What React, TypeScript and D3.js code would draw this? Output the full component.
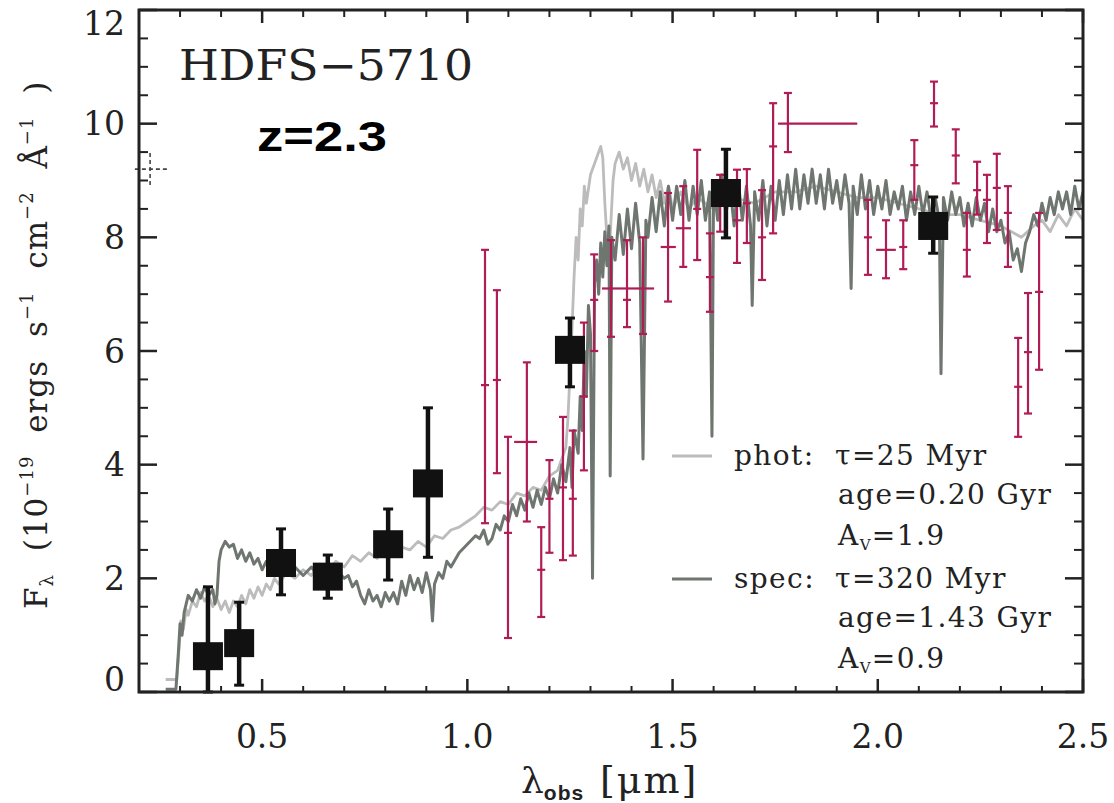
import React from "react";
import * as d3 from "d3";

// ---- data ----
const X_TICKS = [0.5, 1.0, 1.5, 2.0, 2.5];
const X_MINOR = [0.3, 0.4, 0.6, 0.7, 0.8, 0.9, 1.1, 1.2, 1.3, 1.4, 1.6, 1.7, 1.8, 1.9, 2.1, 2.2, 2.3, 2.4];
const Y_TICKS = [0, 2, 4, 6, 8, 10, 12];
const Y_MINOR = [0.5, 1, 1.5, 2.5, 3, 3.5, 4.5, 5, 5.5, 6.5, 7, 7.5, 8.5, 9, 9.5, 10.5, 11, 11.5];

// phot model: light grey [lambda (um), flux]
const PHOT_MODEL: [number, number][] = [
  [0.265, 0.22], [0.292, 0.22], [0.298, 0.8], [0.302, 1.25], [0.308, 1.1], [0.315, 1.45], [0.32, 1.35], [0.33, 1.6],
  [0.34, 1.5], [0.35, 1.75], [0.36, 1.6], [0.37, 1.7], [0.38, 1.5], [0.39, 1.65], [0.4, 1.45], [0.41, 1.6],
  [0.42, 1.4], [0.43, 1.6], [0.44, 1.5], [0.45, 1.7], [0.46, 1.55], [0.47, 1.8], [0.48, 1.65], [0.49, 1.85],
  [0.5, 1.7], [0.51, 1.9], [0.52, 1.8], [0.53, 2.0], [0.54, 1.9], [0.56, 2.1], [0.58, 2.0], [0.6, 2.15],
  [0.62, 2.05], [0.64, 2.25], [0.66, 2.15], [0.68, 2.3], [0.7, 2.2], [0.72, 2.4], [0.74, 2.3], [0.76, 2.45],
  [0.78, 2.35], [0.8, 2.5], [0.82, 2.4], [0.84, 2.55], [0.86, 2.5], [0.88, 2.65], [0.9, 2.55], [0.92, 2.75],
  [0.94, 2.7], [0.96, 2.85], [0.98, 2.9], [1.0, 3.0], [1.02, 3.1], [1.04, 3.25], [1.06, 3.2], [1.08, 3.35],
  [1.1, 3.3], [1.12, 3.5], [1.14, 3.45], [1.16, 3.6], [1.18, 3.55], [1.2, 3.8], [1.22, 3.9], [1.24, 4.3],
  [1.245, 4.8], [1.25, 5.6], [1.255, 6.4], [1.26, 7.3], [1.265, 8.0], [1.27, 7.6], [1.275, 8.5], [1.28, 8.2],
  [1.285, 8.9], [1.29, 8.6], [1.3, 9.1], [1.31, 9.3], [1.32, 9.5], [1.325, 9.6], [1.33, 9.4], [1.335, 8.6],
  [1.34, 8.0], [1.345, 7.6], [1.35, 8.3], [1.355, 9.0], [1.36, 9.3], [1.37, 9.5], [1.38, 9.2], [1.39, 9.4],
  [1.4, 9.0], [1.41, 9.3], [1.42, 8.9], [1.43, 9.2], [1.44, 8.8], [1.45, 9.1], [1.46, 8.7], [1.47, 9.0],
  [1.48, 8.6], [1.49, 8.9], [1.5, 8.5], [1.52, 8.8], [1.54, 8.5], [1.56, 8.7], [1.6, 8.5], [1.65, 8.7],
  [1.7, 8.6], [1.75, 8.8], [1.8, 8.8], [1.85, 8.9], [1.9, 8.8], [1.95, 8.7], [2.0, 8.7], [2.05, 8.6],
  [2.1, 8.5], [2.15, 8.4], [2.2, 8.4], [2.25, 8.3], [2.3, 8.2], [2.35, 8.0], [2.38, 8.2], [2.4, 8.3],
  [2.42, 8.1], [2.44, 8.4], [2.46, 8.2], [2.48, 8.5], [2.5, 8.3],
];

// spec model: dark grey [lambda (um), flux]
const SPEC_MODEL: [number, number][] = [
  [0.265, 0.05], [0.29, 0.05], [0.296, 0.7], [0.3, 1.2], [0.305, 1.0], [0.31, 1.4], [0.32, 1.7], [0.33, 1.6],
  [0.34, 1.8], [0.35, 1.65], [0.36, 1.85], [0.37, 1.7], [0.38, 1.8], [0.385, 1.55], [0.39, 1.7], [0.395, 2.3],
  [0.4, 2.5], [0.41, 2.65], [0.42, 2.55], [0.43, 2.6], [0.44, 2.35], [0.45, 2.5], [0.46, 2.3], [0.47, 2.45],
  [0.48, 2.25], [0.49, 2.35], [0.5, 2.15], [0.51, 2.3], [0.52, 2.2], [0.53, 2.05], [0.54, 2.25], [0.56, 2.1],
  [0.58, 2.2], [0.6, 2.05], [0.62, 2.2], [0.64, 2.0], [0.66, 2.1], [0.68, 2.15], [0.7, 2.0], [0.71, 2.05],
  [0.72, 1.85], [0.73, 1.95], [0.74, 1.7], [0.75, 1.55], [0.76, 1.8], [0.77, 1.6], [0.78, 1.7], [0.79, 1.5],
  [0.8, 1.75], [0.81, 1.6], [0.82, 1.75], [0.83, 1.55], [0.84, 1.95], [0.85, 1.7], [0.86, 2.05], [0.87, 1.8],
  [0.88, 2.0], [0.89, 1.75], [0.9, 2.1], [0.91, 1.8], [0.915, 1.25], [0.92, 1.9], [0.93, 2.1], [0.94, 2.0],
  [0.95, 2.3], [0.96, 2.2], [0.98, 2.45], [1.0, 2.6], [1.02, 2.75], [1.03, 2.7], [1.04, 2.85], [1.05, 2.6],
  [1.06, 2.7], [1.07, 2.95], [1.08, 2.85], [1.09, 3.1], [1.1, 3.0], [1.11, 3.3], [1.12, 3.1], [1.13, 3.4],
  [1.14, 3.2], [1.15, 3.5], [1.16, 3.25], [1.17, 3.55], [1.18, 3.3], [1.19, 3.6], [1.2, 3.4], [1.21, 3.75],
  [1.22, 3.5], [1.23, 4.0], [1.24, 3.7], [1.25, 4.3], [1.255, 3.6], [1.26, 4.6], [1.27, 4.2], [1.275, 5.2],
  [1.28, 4.6], [1.285, 6.0], [1.29, 5.2], [1.295, 6.8], [1.3, 6.3], [1.305, 2.0], [1.31, 7.2], [1.315, 7.6],
  [1.32, 7.0], [1.325, 7.9], [1.33, 7.3], [1.335, 8.1], [1.34, 7.5], [1.345, 8.2], [1.348, 3.8], [1.352, 8.0],
  [1.36, 7.6], [1.37, 8.4], [1.38, 7.7], [1.39, 8.5], [1.4, 7.8], [1.41, 8.6], [1.42, 7.9], [1.428, 4.1],
  [1.435, 8.3], [1.44, 8.0], [1.45, 8.7], [1.46, 8.1], [1.47, 8.8], [1.48, 8.2], [1.49, 8.9], [1.5, 8.3],
  [1.51, 8.9], [1.52, 8.4], [1.53, 9.0], [1.54, 8.3], [1.55, 8.9], [1.56, 8.4], [1.57, 9.0], [1.58, 8.3],
  [1.59, 8.8], [1.596, 4.5], [1.6, 8.9], [1.61, 8.3], [1.62, 9.1], [1.63, 8.4], [1.64, 8.9], [1.65, 8.2],
  [1.66, 9.0], [1.67, 8.3], [1.68, 8.9], [1.69, 8.2], [1.694, 6.8], [1.7, 8.8], [1.71, 8.3], [1.72, 9.0],
  [1.73, 8.2], [1.74, 8.9], [1.75, 8.3], [1.76, 9.0], [1.77, 8.4], [1.78, 9.1], [1.79, 8.5], [1.8, 9.2],
  [1.81, 8.5], [1.82, 9.1], [1.83, 8.6], [1.84, 9.2], [1.85, 8.6], [1.86, 9.1], [1.87, 8.5], [1.88, 9.2],
  [1.89, 8.6], [1.9, 9.0], [1.91, 8.5], [1.92, 9.1], [1.93, 8.6], [1.935, 7.1], [1.94, 8.9], [1.95, 8.4],
  [1.96, 9.1], [1.97, 8.5], [1.98, 9.0], [1.99, 8.4], [2.0, 8.9], [2.01, 8.5], [2.02, 9.0], [2.03, 8.4],
  [2.04, 8.8], [2.05, 8.5], [2.06, 8.9], [2.07, 8.3], [2.08, 8.8], [2.09, 8.4], [2.1, 8.9], [2.11, 8.4],
  [2.12, 8.8], [2.13, 8.3], [2.14, 8.7], [2.15, 8.3], [2.154, 5.6], [2.16, 8.7], [2.17, 8.3], [2.18, 8.8],
  [2.19, 8.4], [2.2, 8.7], [2.21, 8.2], [2.22, 8.6], [2.23, 8.2], [2.24, 8.7], [2.25, 8.3], [2.26, 8.6],
  [2.27, 8.1], [2.28, 8.5], [2.29, 8.1], [2.3, 8.3], [2.31, 7.9], [2.32, 8.1], [2.33, 7.6], [2.34, 7.8],
  [2.35, 7.4], [2.36, 7.9], [2.37, 8.1], [2.38, 8.4], [2.39, 8.2], [2.4, 8.6], [2.41, 8.3], [2.42, 8.7],
  [2.43, 8.4], [2.44, 8.8], [2.45, 8.5], [2.46, 8.8], [2.47, 8.4], [2.48, 8.9], [2.49, 8.5], [2.5, 8.8],
];

// broadband photometry: [lambda, flux, low, high]
const PHOTOMETRY: [number, number, number, number][] = [
  [0.368, 0.63, 0.0, 1.85], [0.444, 0.86, 0.12, 1.58], [0.546, 2.27, 1.71, 2.87], [0.66, 2.03, 1.65, 2.41],
  [0.807, 2.6, 1.97, 3.22], [0.904, 3.67, 2.37, 5.0], [1.25, 6.02, 5.37, 6.58], [1.63, 8.78, 7.99, 9.55],
  [2.135, 8.2, 7.72, 8.71],
];

// spectroscopy: [lambda, flux, low, high, lambdaLow, lambdaHigh]
const SPECTRO: [number, number, number, number, number, number][] = [
  [1.043, 5.4, 2.97, 7.78, 1.043, 1.043], [1.072, 5.49, 3.85, 7.07, 1.072, 1.072], [1.099, 2.8, 0.95, 4.49, 1.099, 1.099],
  [1.145, 4.4, 3.0, 5.8, 1.114, 1.17], [1.18, 2.15, 1.32, 2.9, 1.18, 1.18], [1.2, 3.4, 2.45, 4.08, 1.2, 1.2],
  [1.233, 3.6, 2.32, 4.84, 1.233, 1.233], [1.257, 3.4, 2.4, 4.6, 1.257, 1.257], [1.284, 5.2, 3.9, 6.5, 1.284, 1.284],
  [1.309, 6.9, 6.0, 7.7, 1.309, 1.309], [1.35, 7.1, 6.25, 7.95, 1.328, 1.39], [1.389, 6.9, 6.42, 7.95, 1.389, 1.389],
  [1.428, 7.1, 6.3, 8.0, 1.39, 1.455], [1.489, 7.83, 6.87, 8.78, 1.471, 1.508], [1.526, 8.16, 7.48, 8.9, 1.508, 1.545],
  [1.56, 8.5, 7.6, 9.54, 1.56, 1.56], [1.591, 7.3, 6.69, 8.07, 1.591, 1.591], [1.616, 8.6, 8.1, 9.1, 1.616, 1.616],
  [1.657, 8.3, 7.55, 9.19, 1.657, 1.657], [1.681, 8.6, 7.9, 9.2, 1.681, 1.681], [1.718, 8.0, 7.25, 8.83, 1.718, 1.718],
  [1.745, 9.6, 8.07, 10.36, 1.745, 1.745], [1.781, 10.0, 9.5, 10.54, 1.757, 1.95], [1.976, 8.0, 7.34, 8.66, 1.976, 1.976],
  [2.02, 7.78, 7.28, 8.3, 1.996, 2.044], [2.062, 7.83, 7.44, 8.3, 2.062, 2.062], [2.089, 9.27, 8.66, 9.71, 2.089, 2.089],
  [2.137, 10.36, 9.95, 10.74, 2.137, 2.137], [2.19, 9.44, 8.95, 9.9, 2.19, 2.19], [2.217, 7.78, 7.31, 8.43, 2.217, 2.217],
  [2.242, 8.83, 8.4, 9.33, 2.242, 2.242], [2.266, 8.66, 7.9, 9.1, 2.266, 2.266], [2.29, 8.87, 8.13, 9.47, 2.29, 2.29],
  [2.317, 8.43, 7.48, 8.9, 2.317, 2.317], [2.342, 5.37, 4.49, 6.23, 2.342, 2.342], [2.366, 5.98, 4.9, 7.02, 2.366, 2.366],
  [2.393, 7.04, 5.67, 8.43, 2.393, 2.393],
];

// small dashed marker near the left axis: [lambda, flux, low, high, lambdaLow, lambdaHigh]
const EDGE_MARK: [number, number, number, number, number, number] = [0.227, 9.2, 8.92, 9.5, 0.19, 0.27];

const LEGEND = [
  { key: "phot:", lines: ["\u03c4=25 Myr", "age=0.20 Gyr", "1.9"], color: "#bcbcbc" },
  { key: "spec:", lines: ["\u03c4=320 Myr", "age=1.43 Gyr", "0.9"], color: "#6f7670" },
];

const PHOT_COLOR = "#bcbcbc";
const SPEC_COLOR = "#6f7670";
const RED = "#b01c55";

export default function App() {
  const x = d3.scaleLinear().domain([0.2, 2.5]).range([139, 1083]);
  const y = d3.scaleLinear().domain([0, 12]).range([692, 10]);
  const line = d3
    .line<[number, number]>()
    .x((d) => x(d[0]))
    .y((d) => y(d[1]));

  const serif = "'DejaVu Serif', serif";
  const x0 = x.range()[0], x1 = x.range()[1], yB = y.range()[0], yT = y.range()[1];

  return (
    <svg width={1114} height={803} style={{ position: "absolute", left: 0, top: 0, background: "#fff" }}>
      <defs>
        <clipPath id="plot">
          <rect x={x0} y={yT} width={x1 - x0} height={yB - yT} />
        </clipPath>
      </defs>

      {/* models */}
      <g clipPath="url(#plot)" fill="none" strokeLinejoin="round">
        <path d={line(PHOT_MODEL) || ""} stroke={PHOT_COLOR} strokeWidth={2.8} />
        <path d={line(SPEC_MODEL) || ""} stroke={SPEC_COLOR} strokeWidth={3} />
      </g>

      {/* spectroscopic points */}
      <g stroke={RED} strokeWidth={2.2} fill="none">
        {SPECTRO.map((d, i) => (
          <g key={i}>
            <line x1={x(d[0])} x2={x(d[0])} y1={y(d[2])} y2={y(d[3])} />
            <line x1={x(d[0]) - 4} x2={x(d[0]) + 4} y1={y(d[2])} y2={y(d[2])} />
            <line x1={x(d[0]) - 4} x2={x(d[0]) + 4} y1={y(d[3])} y2={y(d[3])} />
            <line x1={Math.min(x(d[4]), x(d[0]) - 4)} x2={Math.max(x(d[5]), x(d[0]) + 4)} y1={y(d[1])} y2={y(d[1])} />
          </g>
        ))}
      </g>

      {/* edge marker */}
      <g stroke="#444" strokeWidth={1.6} strokeDasharray="4,3">
        <line x1={x(EDGE_MARK[0])} x2={x(EDGE_MARK[0])} y1={y(EDGE_MARK[2])} y2={y(EDGE_MARK[3])} />
        <line x1={x(EDGE_MARK[4])} x2={x(EDGE_MARK[5])} y1={y(EDGE_MARK[1])} y2={y(EDGE_MARK[1])} />
      </g>

      {/* photometry */}
      <g>
        {PHOTOMETRY.map((d, i) => (
          <g key={i} stroke="#111">
            <line x1={x(d[0])} x2={x(d[0])} y1={y(d[2])} y2={y(d[3])} strokeWidth={4.5} />
            <line x1={x(d[0]) - 5} x2={x(d[0]) + 5} y1={y(d[2])} y2={y(d[2])} strokeWidth={3} />
            <line x1={x(d[0]) - 5} x2={x(d[0]) + 5} y1={y(d[3])} y2={y(d[3])} strokeWidth={3} />
            <rect x={x(d[0]) - 15} y={y(d[1]) - 14} width={30} height={28} fill="#111" stroke="none" />
          </g>
        ))}
      </g>

      {/* frame and ticks */}
      <g stroke="#222" fill="none">
        <rect x={x0} y={yT} width={x1 - x0} height={yB - yT} strokeWidth={3} />
        {Y_TICKS.map((t) => (
          <g key={"yt" + t} strokeWidth={2.5}>
            <line x1={x0} x2={x0 + 18} y1={y(t)} y2={y(t)} />
            <line x1={x1} x2={x1 - 18} y1={y(t)} y2={y(t)} />
          </g>
        ))}
        {Y_MINOR.map((t) => (
          <g key={"ym" + t} strokeWidth={2}>
            <line x1={x0} x2={x0 + 9} y1={y(t)} y2={y(t)} />
            <line x1={x1} x2={x1 - 9} y1={y(t)} y2={y(t)} />
          </g>
        ))}
        {X_TICKS.map((t) => (
          <g key={"xt" + t} strokeWidth={2.5}>
            <line x1={x(t)} x2={x(t)} y1={yB} y2={yB - 13} />
            <line x1={x(t)} x2={x(t)} y1={yT} y2={yT + 13} />
          </g>
        ))}
        {X_MINOR.map((t) => (
          <g key={"xm" + t} strokeWidth={2}>
            <line x1={x(t)} x2={x(t)} y1={yB} y2={yB - 6} />
            <line x1={x(t)} x2={x(t)} y1={yT} y2={yT + 7} />
          </g>
        ))}
      </g>

      {/* tick labels */}
      <g fontFamily={serif} fontSize={33} fill="#222">
        {Y_TICKS.map((t) => (
          <text
            key={"yl" + t}
            x={125}
            y={y(t) + (t === 12 ? 13 : t === 0 ? -13 : 0)}
            textAnchor="end"
            dominantBaseline="central"
          >
            {t}
          </text>
        ))}
        {X_TICKS.map((t) => (
          <text key={"xl" + t} x={x(t)} y={748} textAnchor="middle">
            {t.toFixed(1)}
          </text>
        ))}
      </g>

      {/* axis titles */}
      <text x={521} y={793} fontFamily={serif} fontSize={36} fill="#222">
        {"\u03bb"}
        <tspan fontFamily="'Liberation Sans', Arial, sans-serif" fontWeight="bold" fontSize={21} dy={7} letterSpacing={1}>
          obs
        </tspan>
        <tspan x={600} dy={-7} fontSize={38} letterSpacing={2}>{"[\u03bcm]"}</tspan>
      </text>
      <text
        transform="translate(47,609) rotate(-90)"
        fontFamily={serif}
        fontSize={31}
        fill="#222"
        letterSpacing={1}
        wordSpacing={12}
      >
        F
        <tspan fontSize={18} dy={6}>{"\u03bb"}</tspan>
        <tspan dy={-6}>{" (10"}</tspan>
        <tspan fontSize={18} dy={-14}>{"\u221219"}</tspan>
        <tspan dy={14}>{" ergs s"}</tspan>
        <tspan fontSize={18} dy={-14}>{"\u22121"}</tspan>
        <tspan dy={14}>{" cm"}</tspan>
        <tspan fontSize={18} dy={-14}>{"\u22122"}</tspan>
        <tspan dy={14}>{" \u00c5"}</tspan>
        <tspan fontSize={18} dy={-14}>{"\u22121"}</tspan>
        <tspan dy={14}>{" )"}</tspan>
      </text>

      {/* annotations */}
      <text x={179} y={80} fontFamily={serif} fontSize={42} fill="#222" textLength={294} lengthAdjust="spacingAndGlyphs">
        {"HDFS\u22125710"}
      </text>
      <text
        x={257}
        y={151}
        fontFamily="'Liberation Sans', Arial, sans-serif"
        fontWeight="bold"
        fontSize={43}
        fill="#000"
        textLength={130}
        lengthAdjust="spacingAndGlyphs"
      >
        z=2.3
      </text>

      {/* legend */}
      {LEGEND.map((g, gi) => {
        const base = gi === 0 ? 465 : 588;
        return (
          <g key={g.key} fontFamily={serif} fontSize={28} fill="#222" letterSpacing={1.4}>
            <line x1={672} x2={712} y1={base - 9} y2={base - 9} stroke={g.color} strokeWidth={3} />
            <text x={734} y={base}>{g.key}</text>
            <text x={835} y={base}>{g.lines[0]}</text>
            <text x={838} y={base + 39}>{g.lines[1]}</text>
            <text x={838} y={base + 80}>
              A<tspan fontSize={15} dy={5}>V</tspan>
              <tspan dy={-5}>{"=" + g.lines[2]}</tspan>
            </text>
          </g>
        );
      })}
    </svg>
  );
}
